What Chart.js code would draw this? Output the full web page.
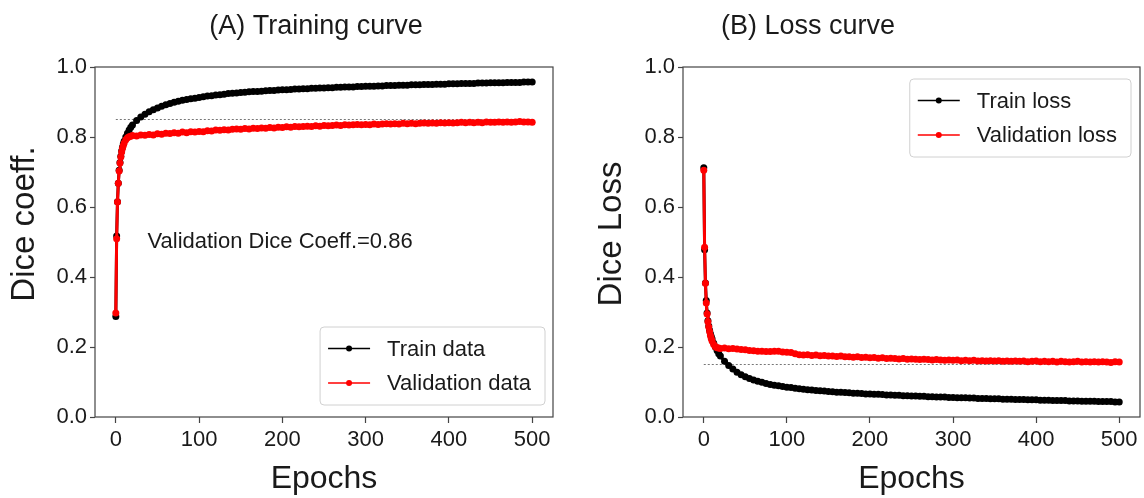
<!DOCTYPE html>
<html>
<head>
<meta charset="utf-8">
<script src="https://cdn.jsdelivr.net/npm/chart.js@4.4.1/dist/chart.umd.min.js"></script>
<style>
html,body{margin:0;padding:0;background:#fff;}
#wrap{width:1144px;height:498px;display:flex;}
.cell{width:572px;height:498px;}
canvas{display:block;}
</style>
</head>
<body>
<div id="wrap">
  <div class="cell"><canvas id="chartA" width="572" height="498"></canvas></div>
  <div class="cell"><canvas id="chartB" width="572" height="498"></canvas></div>
</div>
<script>
// training / loss curves, 500 epochs (sampled)
const epochs = [0,1,2,3,4,5,6,7,8,9,10,12,14,16,18,
  20,25,30,35,40,45,50,55,60,65,70,75,80,85,90,95,100,
  105,110,115,120,125,130,135,140,145,150,155,160,165,170,175,180,185,190,195,200,
  205,210,215,220,225,230,235,240,245,250,255,260,265,270,275,280,285,290,295,300,
  305,310,315,320,325,330,335,340,345,350,355,360,365,370,375,380,385,390,395,400,
  405,410,415,420,425,430,435,440,445,450,455,460,465,470,475,480,485,490,495,500];

const trainDice = [0.287,0.517,0.615,0.668,0.705,0.727,0.745,0.760,0.771,0.780,0.788,0.800,0.811,0.820,0.828,
  0.834,0.847,0.857,0.865,0.872,0.878,0.883,0.888,0.892,0.896,0.899,0.902,0.905,0.907,0.909,0.911,0.913,
  0.915,0.917,0.918,0.920,0.921,0.922,0.924,0.925,0.926,0.927,0.928,0.929,0.930,0.930,0.931,0.932,0.933,0.933,0.934,0.935,
  0.935,0.936,0.937,0.937,0.938,0.938,0.939,0.939,0.940,0.940,0.941,0.941,0.942,0.942,0.943,0.943,0.943,0.944,0.944,0.945,
  0.945,0.945,0.946,0.946,0.947,0.947,0.947,0.948,0.948,0.948,0.949,0.949,0.949,0.950,0.950,0.950,0.951,0.951,0.951,0.952,
  0.952,0.952,0.953,0.953,0.953,0.953,0.954,0.954,0.954,0.955,0.955,0.955,0.955,0.956,0.956,0.956,0.956,0.957,0.957,0.957];

const valDice = [0.297,0.509,0.614,0.668,0.703,0.726,0.743,0.757,0.768,0.776,0.783,0.792,0.798,0.801,0.802,
  0.804,0.803,0.806,0.805,0.807,0.806,0.809,0.808,0.811,0.810,0.812,0.811,0.814,0.812,0.815,0.814,0.816,
  0.815,0.818,0.817,0.820,0.819,0.821,0.820,0.822,0.823,0.822,0.824,0.823,0.825,0.824,0.826,0.825,0.827,0.826,0.828,0.827,
  0.829,0.828,0.830,0.829,0.830,0.831,0.830,0.832,0.831,0.833,0.832,0.833,0.834,0.833,0.835,0.834,0.835,0.836,0.835,0.836,
  0.835,0.837,0.836,0.837,0.838,0.837,0.838,0.837,0.839,0.838,0.839,0.838,0.839,0.840,0.839,0.840,0.839,0.841,0.840,0.841,
  0.840,0.841,0.842,0.841,0.842,0.841,0.842,0.841,0.843,0.842,0.842,0.843,0.842,0.843,0.842,0.843,0.844,0.843,0.843,0.842];

const trainLoss = [0.712,0.478,0.383,0.333,0.297,0.275,0.260,0.248,0.238,0.230,0.223,0.211,0.200,0.190,0.181,
  0.174,0.159,0.147,0.137,0.128,0.121,0.115,0.110,0.106,0.102,0.099,0.096,0.093,0.091,0.089,0.087,0.085,
  0.084,0.082,0.081,0.079,0.078,0.077,0.076,0.075,0.074,0.073,0.072,0.071,0.071,0.070,0.069,0.068,0.068,0.067,0.066,0.066,
  0.065,0.065,0.064,0.063,0.063,0.062,0.062,0.061,0.061,0.060,0.060,0.059,0.059,0.058,0.058,0.057,0.057,0.057,0.056,0.056,
  0.055,0.055,0.055,0.054,0.054,0.053,0.053,0.053,0.052,0.052,0.052,0.051,0.051,0.051,0.050,0.050,0.050,0.049,0.049,0.049,
  0.048,0.048,0.048,0.047,0.047,0.047,0.047,0.046,0.046,0.046,0.045,0.045,0.045,0.045,0.044,0.044,0.044,0.044,0.043,0.043];

const valLoss = [0.705,0.485,0.382,0.326,0.294,0.272,0.257,0.244,0.233,0.224,0.217,0.207,0.201,0.198,0.197,
  0.196,0.197,0.195,0.196,0.194,0.193,0.192,0.190,0.189,0.188,0.188,0.187,0.187,0.188,0.188,0.186,0.185,
  0.184,0.181,0.178,0.177,0.178,0.176,0.177,0.175,0.176,0.174,0.174,0.173,0.174,0.172,0.172,0.171,0.172,0.170,0.171,0.169,
  0.170,0.168,0.169,0.167,0.168,0.167,0.166,0.167,0.165,0.166,0.165,0.164,0.165,0.164,0.163,0.164,0.163,0.162,0.163,0.162,
  0.163,0.161,0.162,0.161,0.162,0.160,0.161,0.160,0.161,0.160,0.161,0.159,0.160,0.159,0.160,0.159,0.160,0.158,0.159,0.160,
  0.158,0.159,0.158,0.159,0.157,0.159,0.158,0.157,0.158,0.159,0.157,0.158,0.157,0.158,0.157,0.158,0.157,0.156,0.158,0.157];

// dotted reference levels
const refDice = 0.85;
const refLoss = 0.15;
const refSpan = [0, 500];

const xTicks = [0,100,200,300,400,500];
const yTicks = [0,0.2,0.4,0.6,0.8,1.0];

const FONT = "'Liberation Sans', Arial, sans-serif";
const TXT = '#1a1a1a';

function pts(ys){ return epochs.map((e,i)=>({x:e, y:ys[i]})); }
function refLine(v){ return refSpan.map(e=>({x:e, y:v})); }

function series(label, ys, color, order){
  return { label, data: pts(ys), borderColor: color, backgroundColor: color,
    borderWidth: 3, pointRadius: 3.5, pointBorderWidth: 0, pointHoverRadius: 3.5, order };
}
function dotted(v){
  return { data: refLine(v), borderColor: '#777', borderWidth: 1, borderDash: [2,2],
    pointRadius: 0, order: 5 };
}

// frame, titles, note and legend drawn on the canvas
const extras = {
  id: 'extras',
  afterDatasetsDraw(chart, args, o){
    const {ctx, chartArea: a, scales} = chart;
    ctx.save();
    ctx.strokeStyle = '#444'; ctx.lineWidth = 1.2;
    ctx.strokeRect(a.left, a.top, a.right - a.left, a.bottom - a.top);

    ctx.fillStyle = TXT;
    ctx.font = '27px ' + FONT;
    ctx.textAlign = 'center'; ctx.textBaseline = 'middle';
    ctx.fillText(o.title, a.left + o.titleDx, 27);

    // y axis title
    ctx.save();
    ctx.translate(o.yTitle.x, o.yTitle.y);
    ctx.rotate(-Math.PI/2);
    ctx.font = '33px ' + FONT;
    ctx.fillText(o.yTitle.text, 0, 0);
    ctx.restore();

    if (o.note){
      ctx.font = '22px ' + FONT;
      ctx.textAlign = 'left';
      ctx.fillText(o.note.text, scales.x.getPixelForValue(o.note.x), scales.y.getPixelForValue(o.note.y));
    }

    const items = chart.data.datasets.filter(d=>d.label);
    ctx.font = '22px ' + FONT;
    const tw = Math.max(...items.map(d=>ctx.measureText(d.label).width));
    const w = 8 + 42 + 17 + tw + 14, h = 78;
    const x0 = a.right - o.legend.dx - w;
    const y0 = o.legend.pos === 'top' ? a.top + o.legend.dy : a.bottom - o.legend.dy - h;
    ctx.beginPath();
    ctx.roundRect(x0, y0, w, h, 4);
    ctx.fillStyle = 'rgba(255,255,255,0.85)'; ctx.fill();
    ctx.strokeStyle = '#d0d0d0'; ctx.lineWidth = 1; ctx.stroke();
    items.forEach((d,i)=>{
      const cy = y0 + 21.5 + i*34.5;
      ctx.strokeStyle = d.borderColor; ctx.lineWidth = 1.4;
      ctx.beginPath(); ctx.moveTo(x0+8, cy); ctx.lineTo(x0+50, cy); ctx.stroke();
      ctx.fillStyle = d.borderColor;
      ctx.beginPath(); ctx.arc(x0+29, cy, 3, 0, Math.PI*2); ctx.fill();
      ctx.fillStyle = TXT; ctx.textAlign = 'left'; ctx.textBaseline = 'middle';
      ctx.fillText(d.label, x0 + 67, cy + 1);
    });
    ctx.restore();
  }
};

function makeChart(id, datasets, yWidth, rightPad, extraOpts){
  return new Chart(document.getElementById(id), {
    type: 'line',
    data: { datasets },
    plugins: [extras],
    options: {
      responsive: false, animation: false, events: [],
      layout: { padding: { top: 67, right: rightPad, bottom: 0, left: 0 } },
      plugins: { legend: { display: false }, tooltip: { enabled: false }, extras: extraOpts },
      scales: {
        x: {
          type: 'linear', min: -25, max: 525,
          afterBuildTicks: s => { s.ticks = xTicks.map(v=>({value:v})); },
          afterFit: s => { s.height = 81; },
          grid: { drawOnChartArea: false, drawTicks: true, tickLength: 6, tickColor: '#444', tickWidth: 1.2 },
          border: { display: false },
          ticks: { font: { family: FONT, size: 22 }, color: TXT, padding: 4, maxRotation: 0, autoSkip: false },
          title: { display: true, text: 'Epochs', font: { family: FONT, size: 32 }, color: TXT, padding: { top: 0, bottom: 0 } }
        },
        y: {
          min: 0, max: 1,
          afterBuildTicks: s => { s.ticks = yTicks.map(v=>({value:v})); },
          afterFit: s => { s.width = yWidth; },
          grid: { drawOnChartArea: false, drawTicks: true, tickLength: 5, tickColor: '#444', tickWidth: 1.2 },
          border: { display: false },
          ticks: { font: { family: FONT, size: 22 }, color: TXT, padding: 3, callback: v => v.toFixed(1) }
        }
      }
    }
  });
}

makeChart('chartA', [
  series('Train data', trainDice, '#000000', 1),
  series('Validation data', valDice, '#ff0000', 0),
  dotted(refDice)
], 95, 19, {
  title: '(A) Training curve', titleDx: 221,
  yTitle: { text: 'Dice coeff.', x: 25, y: 224 },
  note: { text: 'Validation Dice Coeff.=0.86', x: 38, y: 0.5 },
  legend: { pos: 'bottom', dx: 8, dy: 12 }
});

makeChart('chartB', [
  series('Train loss', trainLoss, '#000000', 1),
  series('Validation loss', valLoss, '#ff0000', 0),
  dotted(refLoss)
], 111, 4, {
  title: '(B) Loss curve', titleDx: 125,
  yTitle: { text: 'Dice Loss', x: 40, y: 234 },
  legend: { pos: 'top', dx: 9, dy: 12 }
});
</script>
</body>
</html>
